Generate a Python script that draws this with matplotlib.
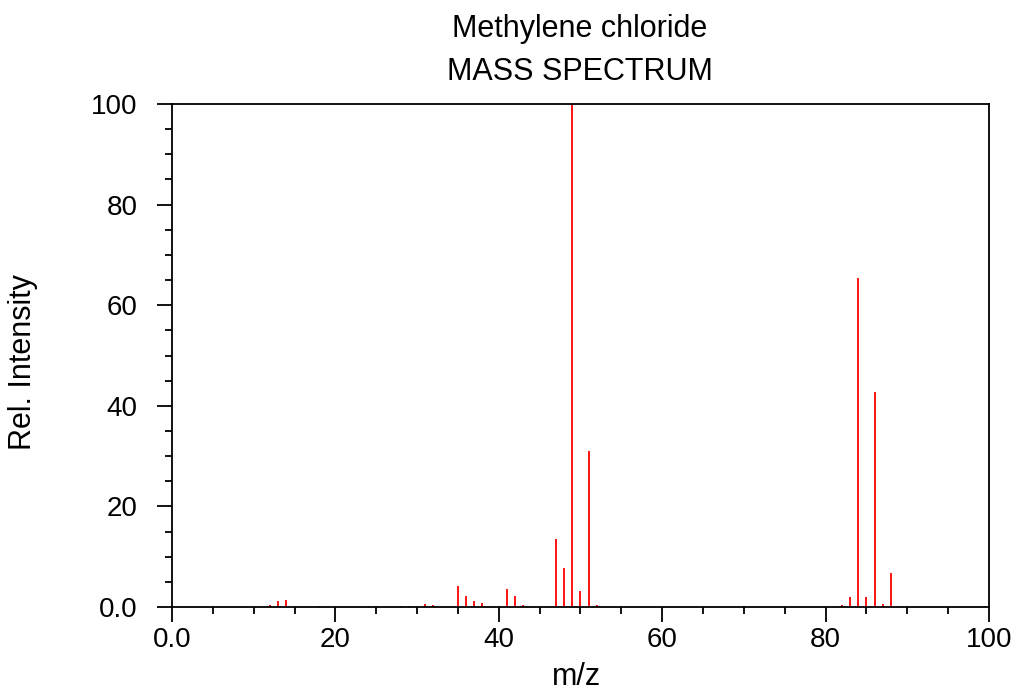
import matplotlib.pyplot as plt
from matplotlib.ticker import MultipleLocator

plt.rcParams['font.family'] = ['Liberation Sans', 'DejaVu Sans']

# peaks (m/z, relative intensity)
mz = [12, 13, 14, 18, 24, 28, 29, 31, 32, 35, 36, 37, 38, 41, 42, 43,
      47, 48, 49, 50, 51, 52, 70, 72, 82, 83, 84, 85, 86, 87, 88]
intensity = [0.4, 1.1, 1.4, 0.1, 0.1, 0.1, 0.2, 0.5, 0.3, 4.2, 2.2, 1.2, 0.7, 3.6, 2.2, 0.3,
             13.5, 7.7, 100, 3.2, 31.0, 0.3, 0.15, 0.05, 0.4, 2.0, 65.4, 1.9, 42.8, 0.5, 6.7]

tick_vals = [0, 20, 40, 60, 80, 100]
tick_labels = ['0.0', '20', '40', '60', '80', '100']

fig = plt.figure(figsize=(10.13, 6.94), dpi=100)
ax = fig.add_axes([0.1698, 0.1254, 0.8065, 0.7247])

ax.vlines(mz, 0, intensity, color='red', linewidth=1.3)

ax.set_xlim(0, 100)
ax.set_ylim(0, 100)
ax.set_xticks(tick_vals)
ax.set_xticklabels(tick_labels)
ax.set_yticks(tick_vals)
ax.set_yticklabels(tick_labels)
ax.xaxis.set_minor_locator(MultipleLocator(5))
ax.yaxis.set_minor_locator(MultipleLocator(5))
ax.tick_params(which='major', length=11, width=1.3, labelsize=20, direction='out')
ax.tick_params(which='minor', length=5, width=1.3, direction='out')
ax.tick_params(axis='y', which='major', pad=14)
for s in ax.spines.values():
    s.set_linewidth(1.3)

fig.text(0.569, 2 / 694, 'm/z', ha='center', va='bottom', fontsize=22)
fig.text(0.0227, 0.478, 'Rel. Intensity', rotation=90, ha='center', va='center', fontsize=22)

fig.text(0.5725, 0.958, 'Methylene chloride', ha='center', va='center', fontsize=22)
fig.text(0.5725, 0.896, 'MASS SPECTRUM', ha='center', va='center', fontsize=22)

fig.savefig('out.png', dpi=100)
